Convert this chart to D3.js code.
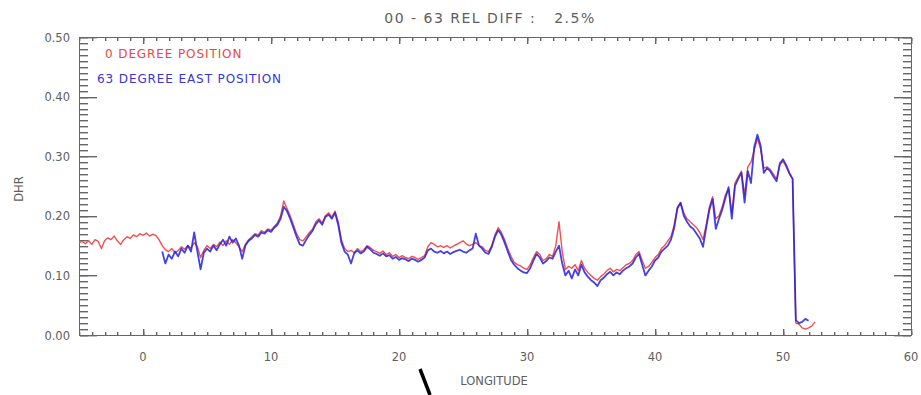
<!DOCTYPE html>
<html>
<head>
<meta charset="utf-8">
<script src="https://cdn.jsdelivr.net/npm/d3@7"></script>
<style>
  html, body { margin: 0; padding: 0; background: #fff; }
  svg { display: block; }
  text { font-family: "DejaVu Sans", sans-serif; }
</style>
</head>
<body>
<svg id="chart" width="921" height="395"></svg>
<script>
// ---------------- data ----------------
const titleText = "00 - 63 REL DIFF :   2.5%";
const xLabel = "LONGITUDE";
const yLabel = "DHR";
const seriesNames = ["0 DEGREE POSITION", "63 DEGREE EAST POSITION"];
const xTickValues = [0, 10, 20, 30, 40, 50, 60];
const yTickValues = [0.0, 0.1, 0.2, 0.3, 0.4, 0.5];
const xDomain = [-5, 60];
const yDomain = [0, 0.5];
const lonStep = 0.25;

// 0 degree position (red), longitudes from -5 every 0.25
const redStart = -5;
const redDHR = [
  .155,.157,.153,.158,.152,.160,.157,.145,
  .158,.163,.160,.166,.158,.152,.160,.165,
  .162,.168,.165,.170,.167,.171,.166,.169,
  .167,.160,.150,.143,.140,.145,.138,.142,
  .148,.144,.150,.146,.155,.148,.130,.142,
  .150,.145,.152,.148,.156,.150,.158,.152,
  .160,.155,.148,.140,.152,.160,.165,.170,
  .168,.175,.172,.178,.176,.182,.188,.200,
  .225,.212,.200,.185,.170,.160,.158,.165,
  .172,.178,.190,.195,.188,.200,.205,.198,
  .208,.190,.160,.145,.140,.142,.138,.145,
  .140,.143,.150,.147,.142,.140,.137,.141,
  .135,.138,.132,.135,.130,.133,.130,.128,
  .132,.130,.127,.130,.133,.148,.155,.152,
  .148,.150,.147,.150,.146,.149,.152,.155,
  .158,.153,.150,.152,.155,.150,.148,.142,
  .140,.150,.168,.180,.172,.160,.145,.132,
  .122,.118,.116,.112,.110,.118,.130,.140,
  .135,.125,.128,.135,.132,.150,.190,.140,
  .110,.115,.112,.118,.108,.125,.112,.105,
  .100,.095,.092,.098,.102,.108,.112,.106,
  .110,.108,.113,.118,.120,.125,.135,.140,
  .125,.112,.115,.122,.130,.135,.145,.150,
  .158,.165,.185,.215,.222,.205,.195,.190,
  .185,.180,.172,.160,.185,.215,.232,.195,
  .200,.215,.235,.245,.205,.255,.265,.275,
  .235,.282,.290,.310,.330,.312,.280,.282,
  .278,.270,.262,.285,.292,.282,.270,.262,
  .020,.018,.012,.010,.012,.015,.022
];

// 63 degree east position (blue), longitudes from 1.5 every 0.25
const blueStart = 1.5;
const blueDHR = [
  .140,.120,
  .135,.128,.140,.132,.145,.138,.150,.140,
  .172,.140,.110,.138,.145,.140,.150,.142,
  .152,.160,.150,.165,.155,.162,.150,.128,
  .150,.158,.162,.168,.165,.172,.170,.176,
  .173,.180,.185,.195,.215,.208,.195,.180,
  .165,.152,.150,.160,.168,.175,.186,.192,
  .185,.198,.202,.195,.205,.185,.155,.140,
  .135,.120,.137,.142,.137,.140,.148,.144,
  .138,.136,.133,.137,.132,.134,.128,.131,
  .126,.129,.127,.124,.128,.126,.123,.126,
  .130,.142,.145,.140,.138,.141,.137,.140,
  .136,.139,.141,.143,.140,.138,.142,.145,
  .170,.150,.145,.138,.136,.148,.165,.176,
  .168,.155,.140,.126,.118,.112,.108,.105,
  .104,.112,.125,.136,.130,.120,.124,.130,
  .128,.140,.150,.120,.100,.108,.095,.110,
  .100,.118,.105,.098,.092,.088,.082,.092,
  .096,.102,.106,.100,.105,.102,.108,.112,
  .115,.120,.130,.136,.118,.100,.108,.115,
  .125,.130,.140,.145,.150,.160,.180,.212,
  .222,.200,.190,.182,.178,.170,.162,.148,
  .180,.210,.228,.178,.195,.210,.230,.248,
  .195,.250,.262,.272,.222,.275,.255,.315,
  .336,.318,.272,.280,.275,.266,.258,.288,
  .295,.285,.272,.262,.025,.020,.022,.027,
  .024
];

// ---------------- drawing ----------------
const svg = d3.select("#chart");
const L = 79, R = 911, T = 37, B = 335;
const x = d3.scaleLinear().domain(xDomain).range([L, R]);
const y = d3.scaleLinear().domain(yDomain).range([B, T]);
const axisColor = "#666666";
const textColor = "#5e5e5e";

const xMinor = d3.range(xDomain[0], xDomain[1] + 0.001, 1);
const yMinor = d3.range(0, 50.5, 1).map(d => d / 100);

// frame
svg.append("rect").attr("x", L + 0.5).attr("y", T + 0.5).attr("width", R - L).attr("height", B - T)
  .attr("fill", "none").attr("stroke", axisColor).attr("stroke-width", 1);

// inward tick marks as small filled rects placed by the scales
const tickG = svg.append("g").attr("fill", axisColor);
function addXTicks(vals, len) {
  tickG.append("g").selectAll("rect").data(vals).join("rect")
    .attr("x", d => Math.round(x(d))).attr("y", B - len).attr("width", 1.4).attr("height", len);
  tickG.append("g").selectAll("rect").data(vals).join("rect")
    .attr("x", d => Math.round(x(d))).attr("y", T + 1).attr("width", 1.4).attr("height", len);
}
function addYTicks(vals, len) {
  tickG.append("g").selectAll("rect").data(vals).join("rect")
    .attr("x", L + 1).attr("y", d => Math.round(y(d))).attr("width", len).attr("height", 1.4);
  tickG.append("g").selectAll("rect").data(vals).join("rect")
    .attr("x", R - len).attr("y", d => Math.round(y(d))).attr("width", len).attr("height", 1.4);
}
addXTicks(xMinor, 3);
addXTicks(xTickValues, 6);
addYTicks(yMinor, 8);
addYTicks(yTickValues, 17);

// tick labels
svg.append("g").selectAll("text").data(xTickValues).join("text")
  .attr("x", d => x(d)).attr("y", B + 26).attr("text-anchor", "middle")
  .attr("fill", textColor).style("font-size", "11.5px")
  .text(d3.format("d"));
svg.append("g").selectAll("text").data(yTickValues).join("text")
  .attr("x", L - 9).attr("y", d => y(d) + 4.5).attr("text-anchor", "end")
  .attr("fill", textColor).style("font-size", "11.5px")
  .text(d3.format(".2f"));

// lines
const redPts = redDHR.map((v, i) => [redStart + i * lonStep, v]);
const bluePts = blueDHR.map((v, i) => [blueStart + i * lonStep, v]);
const line = d3.line().x(d => x(d[0])).y(d => y(d[1]));

svg.append("path").datum(redPts).attr("d", line)
  .attr("fill", "none").attr("stroke", "#f05050").attr("stroke-width", 1.4)
  .attr("stroke-linejoin", "round");
svg.append("path").datum(bluePts).attr("d", line)
  .attr("fill", "none").attr("stroke", "#2020e0").attr("stroke-width", 1.8)
  .attr("stroke-opacity", 0.85).attr("stroke-linejoin", "round");

// title
svg.append("text").attr("x", 490).attr("y", 23).attr("text-anchor", "middle")
  .attr("fill", textColor).style("font-size", "14px").style("letter-spacing", "1.5px")
  .style("white-space", "pre").text(titleText);

// legend
svg.append("text").attr("x", 105).attr("y", 58)
  .attr("fill", "#e84848").style("font-size", "12px").style("letter-spacing", "0.9px")
  .text(seriesNames[0]);
svg.append("text").attr("x", 97).attr("y", 83)
  .attr("fill", "#3434d8").style("font-size", "12px").style("letter-spacing", "0.9px")
  .text(seriesNames[1]);

// axis labels
svg.append("text").attr("x", 494).attr("y", 385).attr("text-anchor", "middle")
  .attr("fill", textColor).style("font-size", "11.5px").text(xLabel);
svg.append("text").attr("transform", "translate(23,189) rotate(-90)").attr("text-anchor", "middle")
  .attr("fill", textColor).style("font-size", "11.5px").text(yLabel);

// black stroke mark present in the reference image
svg.append("line").attr("x1", 420).attr("y1", 369).attr("x2", 430).attr("y2", 395)
  .attr("stroke", "#000").attr("stroke-width", 3.5);
</script>
</body>
</html>
